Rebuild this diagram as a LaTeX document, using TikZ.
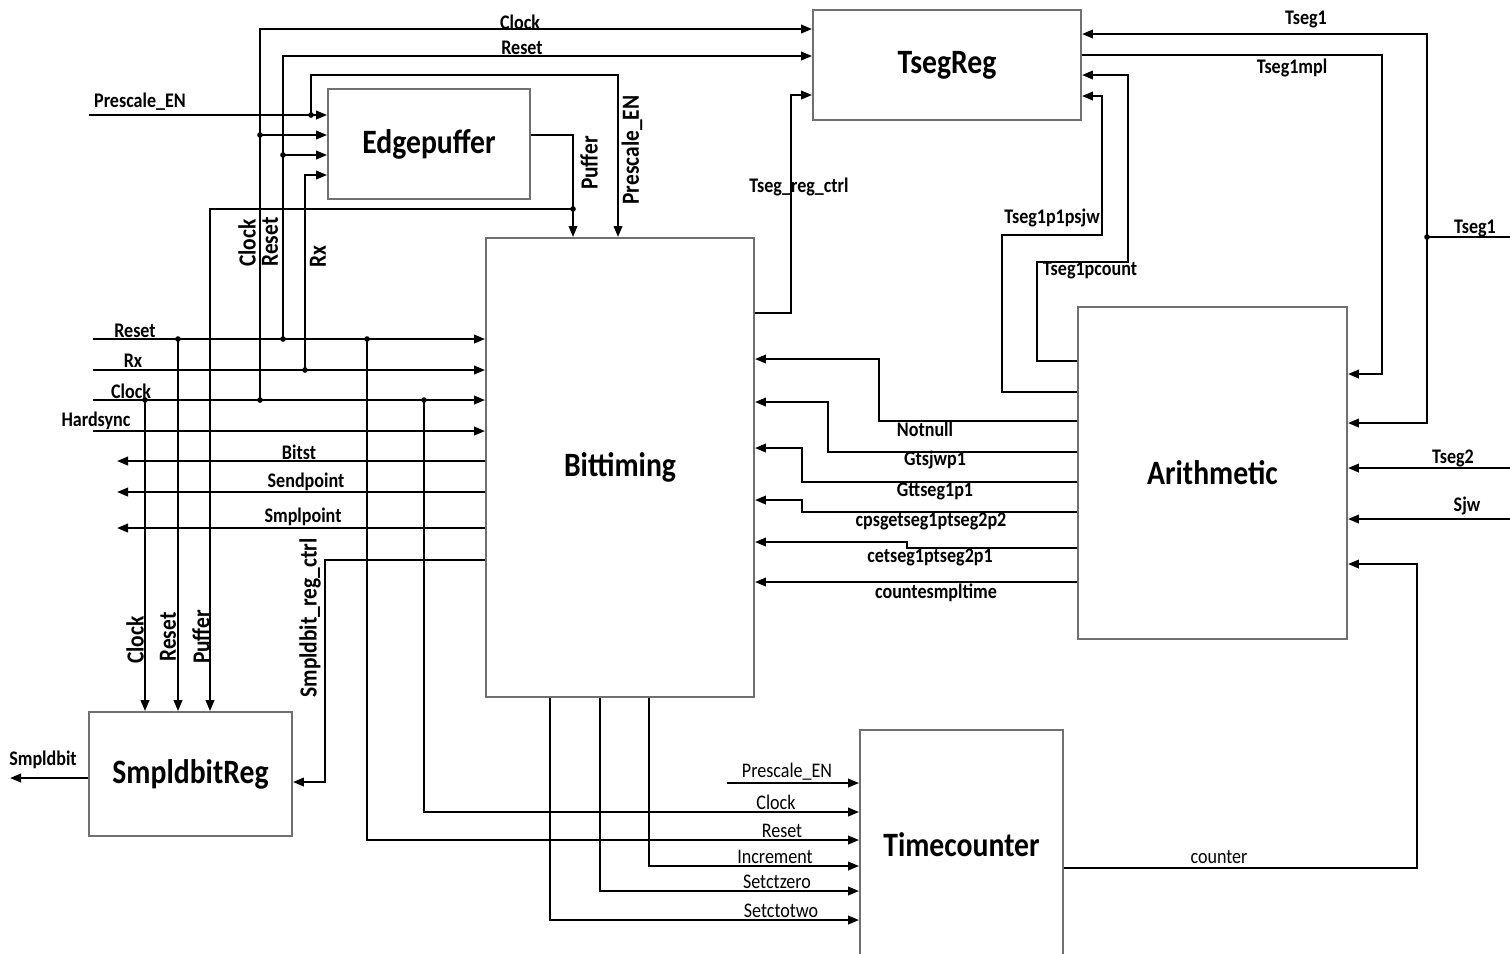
\documentclass[tikz,border=0pt]{standalone}
\usepackage{fontspec}
\setmainfont{Carlito}[FakeStretch=0.87]
\usetikzlibrary{positioning,arrows.meta}
\definecolor{rahmen}{HTML}{707070}

\begin{document}
\begin{tikzpicture}[x=0.01cm,y=-0.01cm,
    modul/.style={draw=rahmen,line width=0.5pt,inner sep=0pt,
                  font=\bfseries\fontsize{9.7}{11}\selectfont},
    sig/.style={line width=0.6pt},
    pf/.style={sig,-{Triangle[length=1.1mm,width=0.85mm]}},
    lab/.style={font=\bfseries\fontsize{5.9}{7}\selectfont,inner sep=0pt},
    labn/.style={font=\fontsize{5.9}{7}\selectfont,inner sep=0pt},
    labr/.style={lab,font=\bfseries\fontsize{7}{8}\selectfont,rotate=90}]
  \clip (0,0) rectangle (1510,953);
  % Module
  \node[modul,minimum width=2.68cm,minimum height=1.10cm] (tseg) at (947,65) {TsegReg};
  \node[modul,minimum width=2.02cm,minimum height=1.10cm] (edge) at (429,144) {Edgepuffer};
  \node[modul,minimum width=2.68cm,minimum height=4.59cm] (bit) at (620,467.5) {Bittiming};
  \node[modul,minimum width=2.69cm,minimum height=3.32cm] (arith) at (1212.5,473) {Arithmetic};
  \node[modul,minimum width=2.03cm,minimum height=1.24cm] (smpl) at (190.5,774) {SmpldbitReg};
  \node[modul,minimum width=2.03cm,minimum height=2.30cm] (tcnt) at (961.5,845) {Timecounter};

  % Eingaenge links
  \foreach \y/\t/\lx/\ly in {339/Reset/135/331,370/Rx/133/361,400/Clock/131/391,431/Hardsync/96/421}{
    \draw[pf] (93,\y) -- (bit.west |- 0,\y);
    \node[lab] (in\y) at (\lx,\ly) {\t};
  }
  \foreach \y/\t/\lx/\ly in {461/Bitst/299/452,492/Sendpoint/306/482,528/Smplpoint/303/517}{
    \draw[pf] (bit.west |- 0,\y) -- (117,\y);
    \node[lab] (out\y) at (\lx,\ly) {\t};
  }

  % Clock, Reset, Rx nach oben
  \draw[pf] (260,400) -- (260,29) -- (tseg.west |- 0,29);
  \draw[pf] (260,135) -- (edge.west |- 0,135);
  \draw[pf] (283,339) -- (283,56) -- (tseg.west |- 0,56);
  \draw[pf] (283,155) -- (edge.west |- 0,155);
  \draw[pf] (305,370) -- (305,175) -- (edge.west |- 0,175);
  \node[lab] (tClk) at (520,22) {Clock};
  \node[lab] (tRst) at (522,48) {Reset};
  \node[labr] (vClk) at (247,243) {Clock};
  \node[labr] (vRst) at (270,242) {Reset};
  \node[labr] (vRx) at (318,257) {Rx};

  % Prescale_EN und Puffer
  \draw[pf] (89,115) -- (edge.west |- 0,115);
  \node[lab] (pre) at (140,102) {Prescale\_EN};
  \draw[pf] (311,115) -- (311,75) -- (618,75) -- (bit.north -| 618,0);
  \node[labr] (vPre) at (632,150) {Prescale\_EN};
  \draw[pf] (edge.east |- 0,135) -- (573,135) -- (bit.north -| 573,0);
  \node[labr] (vPuf) at (589,163) {Puffer};
  \draw[pf] (573,209) -- (210,209) -- (smpl.north -| 210,0);

  % SmpldbitReg
  \draw[pf] (145,400) -- (smpl.north -| 145,0);
  \draw[pf] (178,339) -- (smpl.north -| 178,0);
  \node[labr] (sClk) at (135,640) {Clock};
  \node[labr] (sRst) at (168,637) {Reset};
  \node[labr] (sPuf) at (201,637) {Puffer};
  \draw[pf] (bit.west |- 0,560) -- (325,560) -- (325,782) -- (smpl.east |- 0,782);
  \node[labr] (sCtrl) at (310,618) {Smpldbit\_reg\_ctrl};
  \draw[pf] (smpl.west |- 0,778) -- (10,778);
  \node[lab] (sOut) at (43,760) {Smpldbit};

  % TsegReg
  \draw[pf] (bit.east |- 0,313) -- (791,313) -- (791,95) -- (tseg.west |- 0,95);
  \node[lab] (tCtrl) at (799,187) {Tseg\_reg\_ctrl};
  \draw[sig] (1510,237) -- (1427,237);
  \draw[pf] (1427,237) -- (1427,34) -- (tseg.east |- 0,34);
  \draw[pf] (1427,237) -- (1427,423) -- (arith.east |- 0,423);
  \node[lab] (t1a) at (1306,20) {Tseg1};
  \node[lab] (t1b) at (1475,228) {Tseg1};
  \draw[pf] (tseg.east |- 0,55) -- (1382,55) -- (1382,374) -- (arith.east |- 0,374);
  \node[lab] (t1m) at (1292,68) {Tseg1mpl};
  \draw[pf] (arith.west |- 0,361) -- (1037,361) -- (1037,262) -- (1128,262) -- (1128,75) -- (tseg.east |- 0,75);
  \node[lab] (t1c) at (1090,270) {Tseg1pcount};
  \draw[pf] (arith.west |- 0,392) -- (1002,392) -- (1002,235) -- (1102,235) -- (1102,96) -- (tseg.east |- 0,96);
  \node[lab] (t1p) at (1052,218) {Tseg1p1psjw};

  % Arithmetic
  \draw[pf] (1510,468) -- (arith.east |- 0,468);
  \node[lab] (t2) at (1453,458) {Tseg2};
  \draw[pf] (1510,519) -- (arith.east |- 0,519);
  \node[lab] (sjw) at (1467,506) {Sjw};
  \foreach \y/\xk/\ya/\t/\lx/\ly in {421/879/359/Notnull/925/429,452/828/402/Gtsjwp1/935/460,
      482/802/448/Gttseg1p1/935/491,512/802/500/cpsgetseg1ptseg2p2/931/521,
      548/907/542/cetseg1ptseg2p1/930/557,582/879/582/countesmpltime/936/593}{
    \draw[pf] (arith.west |- 0,\y) -- (\xk,\y) -- (\xk,\ya) -- (bit.east |- 0,\ya);
    \node[lab] (ar\y) at (\lx,\ly) {\t};
  }

  % Timecounter
  \draw[pf] (727,783) -- (tcnt.west |- 0,783);
  \draw[pf] (424,400) -- (424,812) -- (tcnt.west |- 0,812);
  \draw[pf] (367,339) -- (367,840) -- (tcnt.west |- 0,840);
  \draw[pf] (bit.south -| 649,0) -- (649,866) -- (tcnt.west |- 0,866);
  \draw[pf] (bit.south -| 600,0) -- (600,891) -- (tcnt.west |- 0,891);
  \draw[pf] (bit.south -| 550,0) -- (550,920) -- (tcnt.west |- 0,920);
  \foreach \ly/\t/\lx in {772/Prescale\_EN/787,802/Clock/776,831/Reset/782,857/Increment/775,882/Setctzero/777,911/Setctotwo/781}
    \node[labn] (tc\ly) at (\lx,\ly) {\t};
  \draw[pf] (tcnt.east |- 0,868) -- (1417,868) -- (1417,564) -- (arith.east |- 0,564);
  \node[labn] (cnt) at (1219,857) {counter};

  % Knoten
  \foreach \x/\y in {260/400,260/135,283/339,283/155,305/370,311/115,573/209,
      145/400,178/339,367/339,424/400,1427/237}
    \fill (\x,\y) circle[radius=0.8pt];
\end{tikzpicture}
\end{document}
